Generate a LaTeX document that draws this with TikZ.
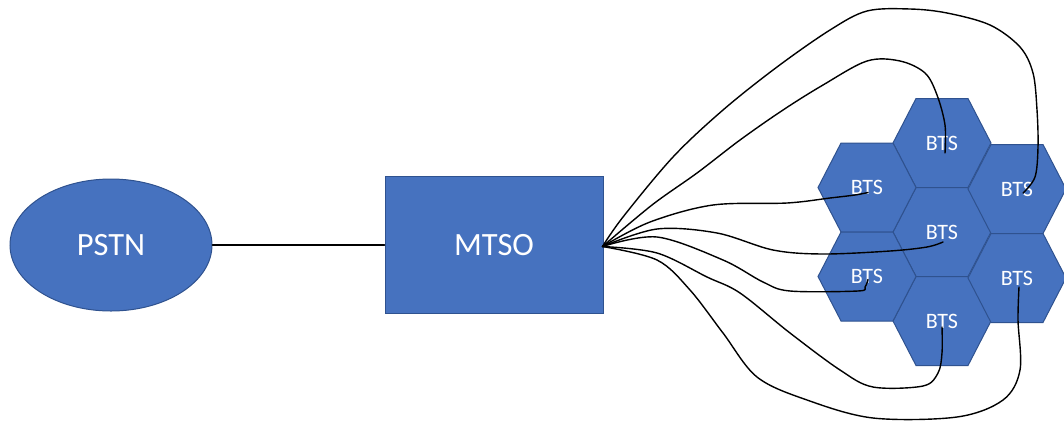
\documentclass[tikz,border=0pt]{standalone}
\usepackage{fontspec}
\setmainfont{Carlito}
\usetikzlibrary{shapes.geometric}
\definecolor{boxblue}{HTML}{4672BF}
\definecolor{edgeblue}{HTML}{2F528F}
\begin{document}
\begin{tikzpicture}[x=1pt,y=-1pt,
  shapefill/.style={fill=boxblue, draw=edgeblue, line width=1pt},
  biglbl/.style={text=white, font=\fontsize{32.5}{38}\selectfont, inner sep=0pt},
  btslbl/.style={text=white, font=\fontsize{22}{26}\selectfont, inner sep=0pt},
  wire/.style={draw=black, line width=1.4pt, line join=round, line cap=round},
  handwire/.style={wire, smooth, tension=0.55}]
\useasboundingbox (0,0) rectangle (1064,421);

% PSTN and MTSO
\node[ellipse, shapefill, biglbl, minimum width=202pt, minimum height=132pt] (pstn) at (111,245) {PSTN};
\node[rectangle, shapefill, biglbl, minimum width=218pt, minimum height=137pt] (mtso) at (494,245) {MTSO};
\draw[wire] (pstn.east) -- (mtso.west);

% BTS honeycomb
\foreach \n/\x/\y in {t/942/143, c/942/232, b/942/321, ul/867/187.5, ll/867/276.5, ur/1017/189, lr/1017/278}{
  \filldraw[shapefill] (\x,\y) ++(49,0) -- ++(-23,44.5) -- ++(-52,0) -- ++(-23,-44.5) -- ++(23,-44.5) -- ++(52,0) -- cycle;
  \node[btslbl] (\n) at (\x,\y) {BTS};
}

% connectors
\coordinate (hub) at ([xshift=-1pt,yshift=-1.5pt]mtso.east);
\coordinate (urEnd) at ([shift={(6,4)}]ur.center);
\coordinate (tEnd) at ([shift={(3,10)}]t.center);
\coordinate (ulEnd) at ([shift={(1,5)}]ul.center);
\coordinate (cEnd) at ([shift={(1,10)}]c.center);
\coordinate (llEnd) at ([shift={(1,3)}]ll.center);
\coordinate (bEnd) at ([shift={(0,6)}]b.center);
\coordinate (lrEnd) at ([shift={(2,9)}]lr.center);

\draw[handwire] plot coordinates {(hub) (623,217) (673,157) (723,110) (777,67) (830,30) (867,11) (910,9) (947,13) (990,25) (1020,47) (1033,73) (1037,110) (1038,147) (1035,177) (urEnd)};
\draw[handwire] plot coordinates {(hub) (652,205) (697,173) (740,140) (783,110) (823,85) (867,61) (900,61) (925,73) (937,95) (945,125) (tEnd)};
\draw[handwire] plot coordinates {(hub) (650,222) (713,205) (787,203) (830,198) (855,195) (ulEnd)};
\draw[handwire] plot coordinates {(hub) (657,229) (717,233) (773,250) (823,254) (890,251) (927,247) (cEnd)};
\draw[handwire] plot coordinates {(hub) (657,237) (723,260) (763,282) (790,291) (858,291) (865,287) (llEnd)};
\draw[handwire] plot coordinates {(hub) (657,253) (707,277) (740,293) (790,333) (840,370) (873,387) (923,386) (938,373) (942,353) (bEnd)};
\draw[handwire] plot coordinates {(hub) (657,260) (690,290) (723,333) (757,377) (807,400) (873,418) (957,417) (1003,400) (1020,370) (1018,320) (lrEnd)};
\end{tikzpicture}
\end{document}
